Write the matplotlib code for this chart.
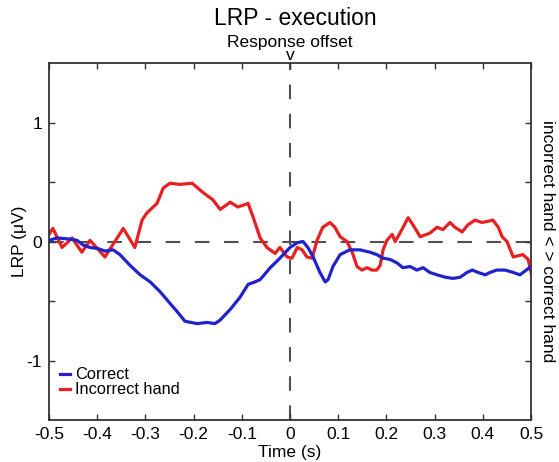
import matplotlib
matplotlib.use('Agg')
import matplotlib.pyplot as plt

plt.rcParams['font.family'] = ['Liberation Sans', 'DejaVu Sans']

# ---- Data ----
t_correct = [-0.5, -0.483, -0.456, -0.442, -0.429, -0.415, -0.398, -0.384, -0.367, -0.353,
             -0.332, -0.311, -0.29, -0.27, -0.249, -0.234, -0.218, -0.193, -0.172, -0.156,
             -0.145, -0.124, -0.104, -0.087, -0.073, -0.062, -0.041, -0.021, 0.0, 0.015,
             0.027, 0.037, 0.048, 0.062, 0.073, 0.079, 0.089, 0.104, 0.124, 0.145,
             0.166, 0.18, 0.193, 0.207, 0.222, 0.234, 0.249, 0.263, 0.276, 0.29,
             0.305, 0.322, 0.338, 0.353, 0.367, 0.378, 0.39, 0.405, 0.415, 0.429,
             0.446, 0.463, 0.477, 0.5]
lrp_correct = [0.01, 0.03, 0.02, 0.01, -0.03, -0.05, -0.06, -0.08, -0.07, -0.11,
               -0.2, -0.28, -0.34, -0.42, -0.52, -0.59, -0.67, -0.69, -0.68, -0.69,
               -0.66, -0.57, -0.47, -0.36, -0.34, -0.32, -0.22, -0.14, -0.05, -0.01,
               0.0, -0.05, -0.13, -0.26, -0.34, -0.32, -0.21, -0.11, -0.07, -0.07,
               -0.09, -0.11, -0.14, -0.15, -0.18, -0.22, -0.21, -0.24, -0.22, -0.26,
               -0.28, -0.3, -0.31, -0.3, -0.26, -0.24, -0.26, -0.28, -0.26, -0.24,
               -0.24, -0.26, -0.28, -0.21]

t_incorrect = [-0.5, -0.492, -0.473, -0.452, -0.432, -0.415, -0.384, -0.346, -0.322, -0.307,
               -0.297, -0.276, -0.263, -0.249, -0.228, -0.203, -0.18, -0.16, -0.145, -0.124,
               -0.108, -0.087, -0.077, -0.062, -0.048, -0.031, -0.021, -0.006, 0.004, 0.015,
               0.025, 0.035, 0.046, 0.056, 0.068, 0.083, 0.093, 0.104, 0.118, 0.129,
               0.139, 0.149, 0.16, 0.17, 0.18, 0.187, 0.193, 0.201, 0.212, 0.218,
               0.228, 0.245, 0.255, 0.27, 0.29, 0.305, 0.317, 0.332, 0.342, 0.357,
               0.369, 0.384, 0.398, 0.411, 0.421, 0.432, 0.44, 0.45, 0.463, 0.483,
               0.494, 0.5]
lrp_incorrect = [0.06, 0.11, -0.05, 0.03, -0.09, 0.01, -0.13, 0.11, -0.05, 0.18,
                 0.24, 0.32, 0.45, 0.49, 0.48, 0.49, 0.41, 0.35, 0.27, 0.33,
                 0.29, 0.32, 0.21, 0.03, -0.05, -0.1, -0.05, -0.13, -0.14, -0.05,
                 -0.07, -0.13, -0.14, 0.01, 0.12, 0.16, 0.12, 0.04, 0.0, -0.09,
                 -0.21, -0.24, -0.22, -0.24, -0.24, -0.2, -0.07, 0.01, 0.06, 0.0,
                 0.07, 0.2, 0.14, 0.04, 0.07, 0.12, 0.1, 0.16, 0.12, 0.08,
                 0.14, 0.18, 0.16, 0.17, 0.18, 0.12, 0.04, 0.0, -0.13, -0.11,
                 -0.15, -0.26]

x_ticks = [-0.5, -0.4, -0.3, -0.2, -0.1, 0, 0.1, 0.2, 0.3, 0.4, 0.5]
x_ticklabels = ['-0.5', '-0.4', '-0.3', '-0.2', '-0.1', '0', '0.1', '0.2', '0.3', '0.4', '0.5']
y_ticks = [-1, -0.5, 0, 0.5, 1]
y_ticklabels = ['-1', '', '0', '', '1']

# ---- Plotting ----
fig = plt.figure(figsize=(5.59, 4.62), dpi=100)
ax = fig.add_axes([0.0877, 0.0909, 0.8623, 0.7727])

ax.axhline(0, color='#505050', lw=1.5, dashes=(7, 7), zorder=1)
ax.axvline(0, color='#505050', lw=1.5, dashes=(7, 7), zorder=1)

ax.plot(t_correct, lrp_correct, color='#2222cc', lw=2.3, label='Correct', zorder=3)
ax.plot(t_incorrect, lrp_incorrect, color='#e82020', lw=2.3, label='Incorrect hand', zorder=2)

ax.set_xlim(-0.5, 0.5)
ax.set_ylim(-1.5, 1.5)
ax.set_xticks(x_ticks)
ax.set_xticklabels(x_ticklabels)
ax.set_yticks(y_ticks)
ax.set_yticklabels(y_ticklabels)
ax.tick_params(direction='in', top=True, right=True, length=4, width=1,
               labelsize=12.5, color='#333333', pad=5)
for s in ax.spines.values():
    s.set_color('#333333')
    s.set_linewidth(1.3)

ax.set_xlabel('Time (s)', fontsize=12.5, labelpad=2)
ax.set_ylabel('LRP (\u03bcV)', fontsize=12.5, labelpad=0)
ax.text(1.018, 0.5, 'incorrect hand < > correct hand', transform=ax.transAxes,
        rotation=-90, ha='left', va='center', fontsize=12.5)

fig.text(0.5277, 0.961, 'LRP - execution', ha='center', va='center', fontsize=16.5)
ax.text(0.0, 1.5, 'Response offset\nv', ha='center', va='bottom', fontsize=12.5,
        linespacing=0.85)

ax.legend(loc='lower left', frameon=False, fontsize=11.8, handlelength=0.6,
          handletextpad=0.3, labelspacing=0.0, borderaxespad=0.0,
          bbox_to_anchor=(0.01, 0.045))

fig.savefig('out.png', dpi=100)
